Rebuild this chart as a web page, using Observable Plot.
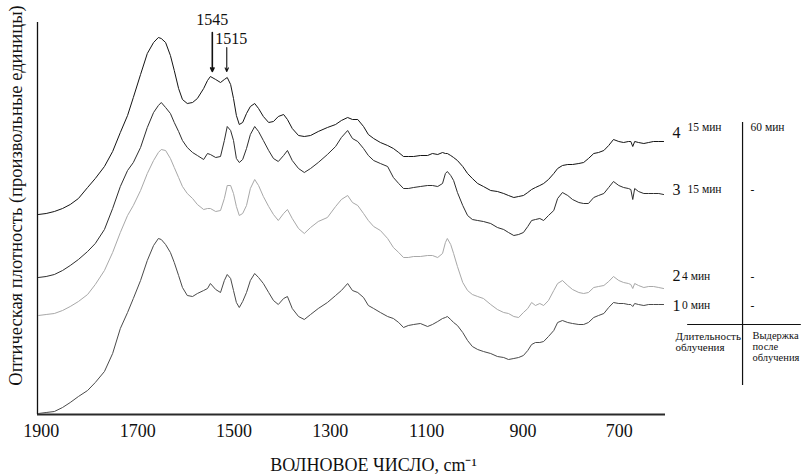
<!DOCTYPE html>
<html><head><meta charset="utf-8">
<script src="https://cdn.jsdelivr.net/npm/d3@7"></script>
<script src="https://cdn.jsdelivr.net/npm/@observablehq/plot@0.6"></script>
<style>
body{margin:0;background:#fff;}
</style>
</head><body><div id="chart"></div>
<script>
// Wavenumber grid, cm^-1
const wavenumber = [1906,1890,1873,1856,1840,1823,1804,1788,1769,1752,
1736,1721,1709,1694,1680,1667,1657,1651,1642,1632,
1624,1615,1607,1597,1586,1576,1563,1555,1549,1538,
1528,1520,1514,1507,1501,1495,1489,1482,1474,1466,
1457,1449,1439,1428,1418,1408,1397,1389,1379,1366,
1354,1341,1325,1306,1289,1277,1264,1254,1243,1231,
1221,1210,1196,1181,1169,1158,1148,1138,1127,1113,
1098,1088,1077,1067,1061,1057,1050,1044,1036,1025,
1015,1005,994,982,967,953,940,930,919,909,
899,890,882,874,865,857,847,836,828,818,
807,797,784,774,764,753,743,732,722,712,
701,691,681,676,672,668,660,649,639,629,
618,608];

// Optical density (arbitrary units, curves offset as in the figure)
const spectrum1 = [0.01,0.02,0.03,0.07,0.12,0.18,0.24,0.32,0.43,0.61,
0.86,1.02,1.16,1.34,1.54,1.69,1.76,1.75,1.70,1.62,
1.52,1.39,1.27,1.19,1.18,1.21,1.24,1.26,1.31,1.25,
1.22,1.34,1.40,1.36,1.24,1.12,1.07,1.13,1.22,1.34,
1.41,1.37,1.31,1.22,1.14,1.10,1.16,1.18,1.06,0.98,
0.95,1.00,1.06,1.12,1.19,1.24,1.31,1.24,1.22,1.17,
1.09,1.06,1.02,0.98,0.96,0.92,0.87,0.89,0.90,0.91,
0.88,0.90,0.93,0.96,0.97,0.98,0.95,0.92,0.89,0.82,
0.74,0.68,0.65,0.63,0.61,0.58,0.57,0.55,0.56,0.57,
0.59,0.64,0.70,0.72,0.72,0.73,0.78,0.84,0.92,0.94,
0.92,0.91,0.90,0.90,0.92,0.97,0.99,1.01,1.07,1.12,
1.11,1.11,1.10,1.10,1.08,1.11,1.10,1.09,1.10,1.10,
1.10,1.10];

const spectrum2 = [0.99,1.00,1.01,1.04,1.08,1.13,1.20,1.30,1.44,1.62,
1.82,1.99,2.09,2.24,2.41,2.54,2.62,2.65,2.64,2.56,
2.47,2.37,2.28,2.21,2.16,2.10,2.05,2.06,2.06,2.03,
2.04,2.16,2.29,2.29,2.21,2.08,1.99,2.01,2.09,2.26,
2.35,2.29,2.18,2.08,2.00,1.94,2.01,2.05,1.96,1.86,
1.81,1.87,1.93,1.97,2.08,2.15,2.19,2.12,2.09,2.01,
1.94,1.88,1.84,1.76,1.67,1.62,1.57,1.57,1.58,1.58,
1.59,1.59,1.57,1.61,1.72,1.76,1.70,1.61,1.48,1.32,
1.24,1.20,1.18,1.16,1.10,1.05,1.02,1.01,0.98,0.97,
1.02,1.06,1.12,1.09,1.11,1.09,1.14,1.24,1.31,1.34,
1.29,1.25,1.22,1.21,1.22,1.27,1.28,1.29,1.33,1.38,
1.34,1.32,1.31,1.30,1.26,1.31,1.29,1.27,1.28,1.28,
1.27,1.26];

const spectrum3 = [1.37,1.38,1.40,1.44,1.49,1.55,1.63,1.71,1.85,2.06,
2.28,2.44,2.52,2.67,2.87,3.02,3.09,3.12,3.07,3.01,
2.92,2.83,2.74,2.67,2.62,2.59,2.55,2.61,2.60,2.57,
2.58,2.74,2.88,2.84,2.74,2.56,2.52,2.55,2.66,2.80,
2.88,2.83,2.74,2.64,2.56,2.53,2.59,2.64,2.54,2.46,
2.42,2.46,2.52,2.60,2.68,2.77,2.84,2.76,2.73,2.66,
2.59,2.54,2.51,2.48,2.37,2.31,2.26,2.26,2.27,2.28,
2.29,2.29,2.28,2.31,2.41,2.43,2.39,2.34,2.22,2.09,
1.99,1.95,1.94,1.93,1.91,1.87,1.85,1.82,1.79,1.80,
1.82,1.88,1.94,1.95,1.96,1.94,1.99,2.04,2.16,2.22,
2.19,2.15,2.12,2.11,2.11,2.17,2.19,2.21,2.27,2.33,
2.29,2.27,2.26,2.25,2.15,2.26,2.23,2.21,2.21,2.21,
2.21,2.20];

const spectrum4 = [2.00,2.01,2.03,2.06,2.10,2.16,2.27,2.36,2.48,2.63,
2.82,2.99,3.17,3.40,3.61,3.72,3.77,3.76,3.72,3.59,
3.44,3.26,3.15,3.11,3.12,3.16,3.26,3.34,3.38,3.35,
3.32,3.35,3.37,3.30,3.16,2.99,2.90,2.92,3.01,3.08,
3.11,3.06,2.98,2.92,2.93,2.98,3.00,2.95,2.86,2.79,
2.78,2.79,2.83,2.87,2.90,2.94,2.97,2.95,2.95,2.88,
2.80,2.76,2.72,2.69,2.66,2.62,2.58,2.58,2.58,2.59,
2.59,2.61,2.60,2.62,2.61,2.61,2.59,2.57,2.54,2.48,
2.41,2.36,2.31,2.28,2.24,2.23,2.21,2.19,2.17,2.18,
2.19,2.22,2.25,2.27,2.29,2.31,2.35,2.41,2.46,2.49,
2.50,2.50,2.51,2.52,2.56,2.61,2.62,2.64,2.69,2.75,
2.73,2.72,2.73,2.73,2.68,2.73,2.72,2.71,2.72,2.73,
2.73,2.73];

const seriesNames = ["1","2","3","4"];
const irradiation = ["0 мин","4 мин","15 мин","15 мин"];
const holding = ["-","-","-","60 мин"];
const xTicks = [1900,1700,1500,1300,1100,900,700];
const bandLabels = [1545, 1515];
const yTitle = "Оптическая плотность (произвольные единицы)";
const xTitle = "ВОЛНОВОЕ ЧИСЛО, cm⁻¹";

const spectra = [spectrum1, spectrum2, spectrum3, spectrum4];
const strokes = ["#4a4a4a", "#a8a8a8", "#2e2e2e", "#151515"];
const tables = spectra.map(s => s.map((v, j) => ({wn: wavenumber[j], a: v})));

// legend layout (rows in data units of optical density)
const numberLevel = [1.09, 1.39, 2.25, 2.82];
const textLevel = [1.09, 1.38, 2.25, 2.87];
const legendRows = seriesNames.map((n, i) => ({n, irr: irradiation[i], hold: holding[i], yn: numberLevel[i], yt: textLevel[i], i}));

const serif = '"Liberation Serif", "Times New Roman", serif';

const chart = Plot.plot({
  width: 801,
  height: 475,
  marginLeft: 37,
  marginRight: 136,
  marginTop: 22,
  marginBottom: 61,
  style: {fontFamily: serif, fontSize: "18px", background: "white", color: "#111"},
  x: {domain: [1908, 604], ticks: xTicks, tickSize: 0, tickPadding: 10, label: null, tickFormat: d => String(d)},
  y: {domain: [0, 3.92], axis: null},
  marks: [
    Plot.ruleY([0], {stroke: "#2a2a2a", strokeWidth: 2}),
    Plot.ruleX([1908], {stroke: "#111", strokeWidth: 1.3}),
    ...tables.map((t, i) => Plot.line(t, {x: "wn", y: "a", stroke: strokes[i], strokeWidth: 1})),
    // band markers
    Plot.arrow(bandLabels, {x1: d => d, x2: d => d, y1: d => d === 1545 ? 3.82 : 3.67, y2: 3.43,
      stroke: "#111", strokeWidth: d => d === 1545 ? 1.6 : 1.1, headLength: 6, headAngle: 50}),
    Plot.text([bandLabels[0]], {x: d => d, y: 3.92, dy: -3, text: d => String(d), fontSize: 16, lineAnchor: "middle", fill: "#111"}),
    Plot.text([bandLabels[1]], {x: () => bandLabels[0], y: 3.76, dx: 3, text: d => String(d), fontSize: 16, textAnchor: "start", lineAnchor: "middle", fill: "#111"}),
    // axis titles
    Plot.text([yTitle], {frameAnchor: "left", rotate: -90, dx: -21.5, dy: -23, textAnchor: "middle", lineAnchor: "middle", fontSize: 18.5, fill: "#111"}),
    Plot.text([xTitle], {frameAnchor: "bottom", dx: 22, dy: 51, textAnchor: "middle", lineAnchor: "middle", fontSize: 18, fill: "#111"}),
    // legend table
    Plot.text(legendRows, {frameAnchor: "right", y: "yn", text: "n", dx: 11, textAnchor: "middle", lineAnchor: "middle", fontSize: 16, fill: "#111"}),
    Plot.text(legendRows.filter(r => r.i >= 2), {frameAnchor: "right", y: "yt", text: "irr", dx: 22, textAnchor: "start", lineAnchor: "middle", fontSize: 11.5, fill: "#111"}),
    Plot.text(legendRows.filter(r => r.i < 2), {frameAnchor: "right", y: "yt", text: "irr", dx: 16.5, textAnchor: "start", lineAnchor: "middle", fontSize: 11.5, fill: "#111"}),
    Plot.text(legendRows, {frameAnchor: "right", y: "yt", text: "hold", dx: 85, textAnchor: "start", lineAnchor: "middle", fontSize: 11.5, fill: "#111"}),
    Plot.ruleX([444], {y1: 0.29, y2: 2.92, stroke: "#111", strokeWidth: 1.2}),
    Plot.ruleY([0.90], {x1: 558, x2: 322, stroke: "#111", strokeWidth: 1.2}),
    Plot.text(["Длительность\nоблучения"], {frameAnchor: "right", y: 0.83, dx: 10, textAnchor: "start", lineAnchor: "top", lineHeight: 1.05, fontSize: 11, fill: "#111"}),
    Plot.text(["Выдержка\nпосле\nоблучения"], {frameAnchor: "right", y: 0.83, dx: 87, textAnchor: "start", lineAnchor: "top", lineHeight: 1.05, fontSize: 10.5, fill: "#111"})
  ]
});
document.getElementById("chart").appendChild(chart);
</script>
</body></html>
